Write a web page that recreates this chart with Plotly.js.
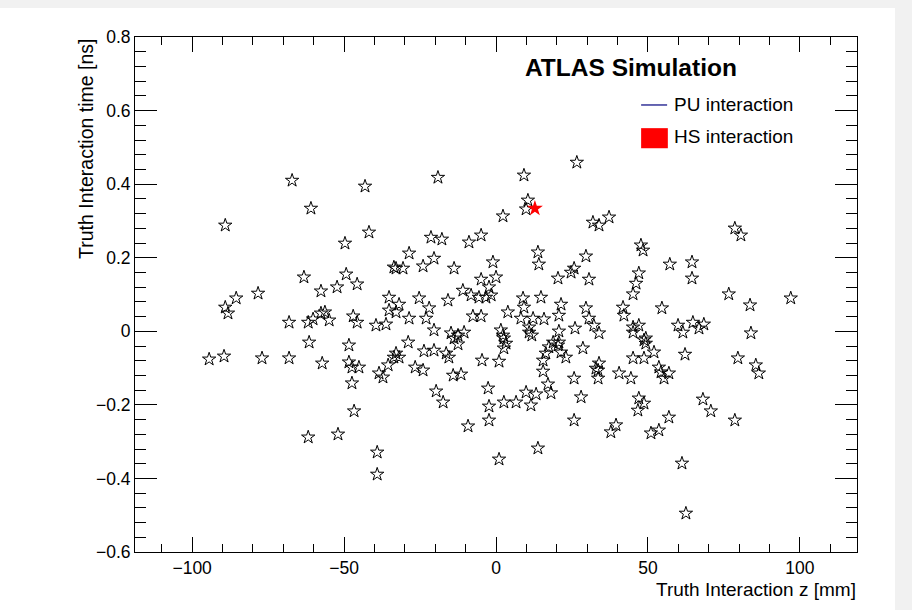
<!DOCTYPE html>
<html>
<head>
<meta charset="utf-8">
<script src="https://cdn.plot.ly/plotly-3.0.1.min.js"></script>
<style>
  html, body { margin: 0; padding: 0; background: #ffffff; }
  #wrap { position: relative; width: 912px; height: 610px; overflow: hidden; }
  #chart { position: absolute; left: 0; top: 0; width: 912px; height: 610px; }
  .band { position: absolute; background: #f1f1f1; pointer-events: none; }
</style>
</head>
<body>
<div id="wrap">
  <div id="chart"></div>
  <div class="band" style="left:0;top:0;width:912px;height:8px;"></div>
  <div class="band" style="left:895px;top:0;width:17px;height:610px;"></div>
</div>
<script>
// Pile-up (PU) truth vertices: z position [mm] and time [ns]
const puZ = [
  -67.1, -43.1, -60.9, -89.1, -41.8, -49.7, 26.6, -19.1, 9.2, 10.5,
  9.9, 2.3, -21.4, -17.8, -8.9, -4.9, 13.8, 31.9, -28.6, -20.4,
  29.6, 33.9, 37.2, 78.6, 80.6, 47.7, 48.4, -63.2, -49.3, -45.7,
  -52.3, -57.6, -85.5, -78.3, -89.1, -88.2, -35.2, -35.2, -33.6, -68.1,
  -61.8, -60.2, -57.6, -56.3, -54.9, -47.0, -45.7, -39.5, -36.2, -61.5,
  -48.4, -32.9, -30.6, -24.0, -13.8, -1.0, 14.1, 25.7, 24.7, 20.4,
  30.6, -4.9, 0.0, -2.3, -10.9, -8.2, -5.6, -3.3, -1.6, -31.9,
  -25.3, -15.8, -32.9, -28.6, -22.0, -23.0, -7.6, -4.9, 3.9, 8.9,
  14.8, 9.2, 8.2, 12.2, 15.8, 21.4, 20.7, 29.6, 30.6, -20.4,
  -14.8, -12.5, -10.5, 1.6, 2.3, 10.9, 10.9, 20.7, 26.0, -28.9,
  18.8, 20.7, 57.2, 64.5, 64.5, 47.0, 46.1, 45.1, 76.6, 83.6,
  97.0, 41.8, 42.1, 32.2, 33.9, 54.6, 45.1, 47.0, 45.1, 59.9,
  61.5, 64.8, 66.8, 68.4, 83.9, 49.3, -94.4, -89.5, -77.0, -68.1,
  -57.2, -48.4, -47.4, -45.1, -38.5, -37.2, -35.5, -33.6, -47.4, -46.7,
  -61.8, -52.0, -32.9, -31.9, -23.7, -20.4, -16.4, -15.5, -12.5, -13.8,
  -26.6, -24.0, -14.1, -11.5, -4.6, 1.0, 2.6, 2.6, 3.3, 11.8,
  17.4, 20.4, 21.4, 23.0, 15.5, 16.4, 28.6, 15.5, 17.1, 18.1,
  9.9, 13.2, 11.5, 2.6, 6.6, -2.6, -2.3, -2.3, -9.2, -19.7,
  -17.4, 25.7, 28.0, 25.7, 32.9, 48.7, 49.3, 33.9, 33.6, 33.6,
  45.1, 48.7, 52.0, 40.5, 44.4, 53.6, 54.3, 55.3, 56.9, 62.2,
  79.6, 85.5, 86.5, 47.0, 48.7, 46.7, 68.1, 70.7, 56.9, 78.6,
  39.5, 37.8, 51.0, 53.6, -39.1, -39.1, 13.8, 1.0, 61.2, 62.5
];
const puT = [
  0.410, 0.394, 0.334, 0.288, 0.269, 0.239, 0.459, 0.418, 0.424, 0.356,
  0.332, 0.313, 0.255, 0.250, 0.242, 0.261, 0.215, 0.296, 0.212, 0.198,
  0.204, 0.288, 0.310, 0.280, 0.261, 0.234, 0.220, 0.147, 0.155, 0.128,
  0.120, 0.109, 0.090, 0.103, 0.065, 0.049, 0.092, 0.057, 0.174, 0.024,
  0.024, 0.033, 0.049, 0.052, 0.030, 0.041, 0.024, 0.016, 0.019, -0.030,
  -0.038, 0.171, 0.171, 0.177, 0.171, 0.188, 0.182, 0.171, 0.160, 0.144,
  0.141, 0.141, 0.147, 0.120, 0.111, 0.098, 0.092, 0.092, 0.098, 0.073,
  0.090, 0.084, 0.052, 0.035, 0.063, 0.035, 0.041, 0.041, 0.052, 0.090,
  0.092, 0.065, 0.035, 0.035, 0.033, 0.073, 0.043, 0.063, 0.035, 0.003,
  -0.005, -0.011, -0.003, 0.003, -0.011, 0.011, -0.003, 0.000, 0.008, -0.030,
  -0.030, -0.030, 0.182, 0.188, 0.144, 0.158, 0.130, 0.101, 0.101, 0.071,
  0.090, 0.065, 0.043, 0.016, -0.005, 0.063, 0.011, 0.016, -0.003, 0.016,
  -0.003, 0.024, 0.008, 0.019, -0.005, -0.019, -0.076, -0.068, -0.073, -0.073,
  -0.087, -0.084, -0.098, -0.098, -0.114, -0.125, -0.092, -0.071, -0.141, -0.217,
  -0.288, -0.280, -0.060, -0.071, -0.054, -0.052, -0.060, -0.071, -0.035, -0.019,
  -0.098, -0.106, -0.120, -0.117, -0.079, -0.082, -0.019, -0.046, -0.033, -0.011,
  -0.043, -0.038, -0.057, -0.071, -0.079, -0.060, -0.046, -0.109, -0.144, -0.168,
  -0.166, -0.171, -0.201, -0.193, -0.193, -0.155, -0.204, -0.242, -0.258, -0.163,
  -0.193, -0.128, -0.179, -0.242, -0.101, -0.024, -0.033, -0.087, -0.106, -0.128,
  -0.073, -0.073, -0.057, -0.114, -0.128, -0.098, -0.111, -0.128, -0.114, -0.063,
  -0.073, -0.092, -0.114, -0.182, -0.196, -0.215, -0.185, -0.217, -0.234, -0.242,
  -0.255, -0.274, -0.277, -0.269, -0.329, -0.389, -0.318, -0.348, -0.359, -0.495
];
// Hard-scatter (HS) vertex
const hsZ = [12.8];
const hsT = [0.334];

// Axis ticks
const zTicks = [-100, -50, 0, 50, 100];
const zTickText = ['\u2212100', '\u221250', '0', '50', '100'];
const tTicks = [-0.6, -0.4, -0.2, 0, 0.2, 0.4, 0.6, 0.8];
const tTickText = ['\u22120.6', '\u22120.4', '\u22120.2', '0', '0.2', '0.4', '0.6', '0.8'];

const FONT = 'Liberation Sans, Arial, sans-serif';

const traces = [
  {
    type: 'scatter', mode: 'markers', name: 'PU interaction',
    x: puZ, y: puT,
    marker: { symbol: 'star-open', size: 10, color: '#000000', line: { width: 1, color: '#000000' } },
    showlegend: false, hoverinfo: 'x+y'
  },
  {
    type: 'scatter', mode: 'markers', name: 'HS interaction',
    x: hsZ, y: hsT,
    marker: { symbol: 'star', size: 12, color: '#ff0000', line: { width: 0 } },
    showlegend: false, hoverinfo: 'x+y'
  }
];

const axisCommon = {
  showgrid: false, zeroline: false,
  showline: true, linecolor: '#000000', linewidth: 1, mirror: 'allticks',
  ticks: 'inside', tickcolor: '#000000', tickwidth: 1,
  tickfont: { family: FONT, size: 17.5, color: '#000000' }
};

const layout = {
  width: 912, height: 610,
  margin: { l: 135, r: 55, t: 37, b: 58 },
  paper_bgcolor: '#ffffff', plot_bgcolor: '#ffffff',
  showlegend: false,
  xaxis: Object.assign({}, axisCommon, {
    range: [-118.8, 118.8],
    tickmode: 'array', tickvals: zTicks, ticktext: zTickText,
    ticklen: 15,
    minor: { ticks: 'inside', dtick: 10, tick0: 0, ticklen: 8, tickcolor: '#000000', tickwidth: 1, showgrid: false }
  }),
  yaxis: Object.assign({}, axisCommon, {
    range: [-0.6, 0.8],
    tickmode: 'array', tickvals: tTicks, ticktext: tTickText,
    ticklen: 22,
    minor: { ticks: 'inside', dtick: 0.04, tick0: 0, ticklen: 11, tickcolor: '#000000', tickwidth: 1, showgrid: false }
  }),
  shapes: [
    // legend keys
    { type: 'line', xref: 'paper', yref: 'paper', x0: 0.701, x1: 0.737, y0: 0.868, y1: 0.868,
      line: { color: '#00007f', width: 1.2 } },
    { type: 'rect', xref: 'paper', yref: 'paper', x0: 0.701, x1: 0.738, y0: 0.784, y1: 0.823,
      fillcolor: '#ff0000', line: { width: 0 } }
  ],
  annotations: [
    { xref: 'paper', yref: 'paper', x: 0.538, y: 0.940, xanchor: 'left', yanchor: 'middle',
      text: '<b>ATLAS Simulation</b>', showarrow: false,
      font: { family: FONT, size: 24.5, color: '#000000' } },
    { xref: 'paper', yref: 'paper', x: 0.744, y: 0.868, xanchor: 'left', yanchor: 'middle',
      text: 'PU interaction', showarrow: false,
      font: { family: FONT, size: 19, color: '#000000' } },
    { xref: 'paper', yref: 'paper', x: 0.744, y: 0.806, xanchor: 'left', yanchor: 'middle',
      text: 'HS interaction', showarrow: false,
      font: { family: FONT, size: 19, color: '#000000' } },
    { xref: 'paper', yref: 'paper', x: 1.002, y: -0.072, xanchor: 'right', yanchor: 'middle',
      text: 'Truth Interaction z [mm]', showarrow: false,
      font: { family: FONT, size: 19, color: '#000000' } },
    { xref: 'paper', yref: 'paper', x: -0.068, y: 1.0, xanchor: 'center', yanchor: 'top',
      text: 'Truth Interaction time [ns]', textangle: -90, showarrow: false,
      font: { family: FONT, size: 19.5, color: '#000000' } }
  ]
};

Plotly.newPlot('chart', traces, layout, { displayModeBar: false, staticPlot: true });
</script>
</body>
</html>
